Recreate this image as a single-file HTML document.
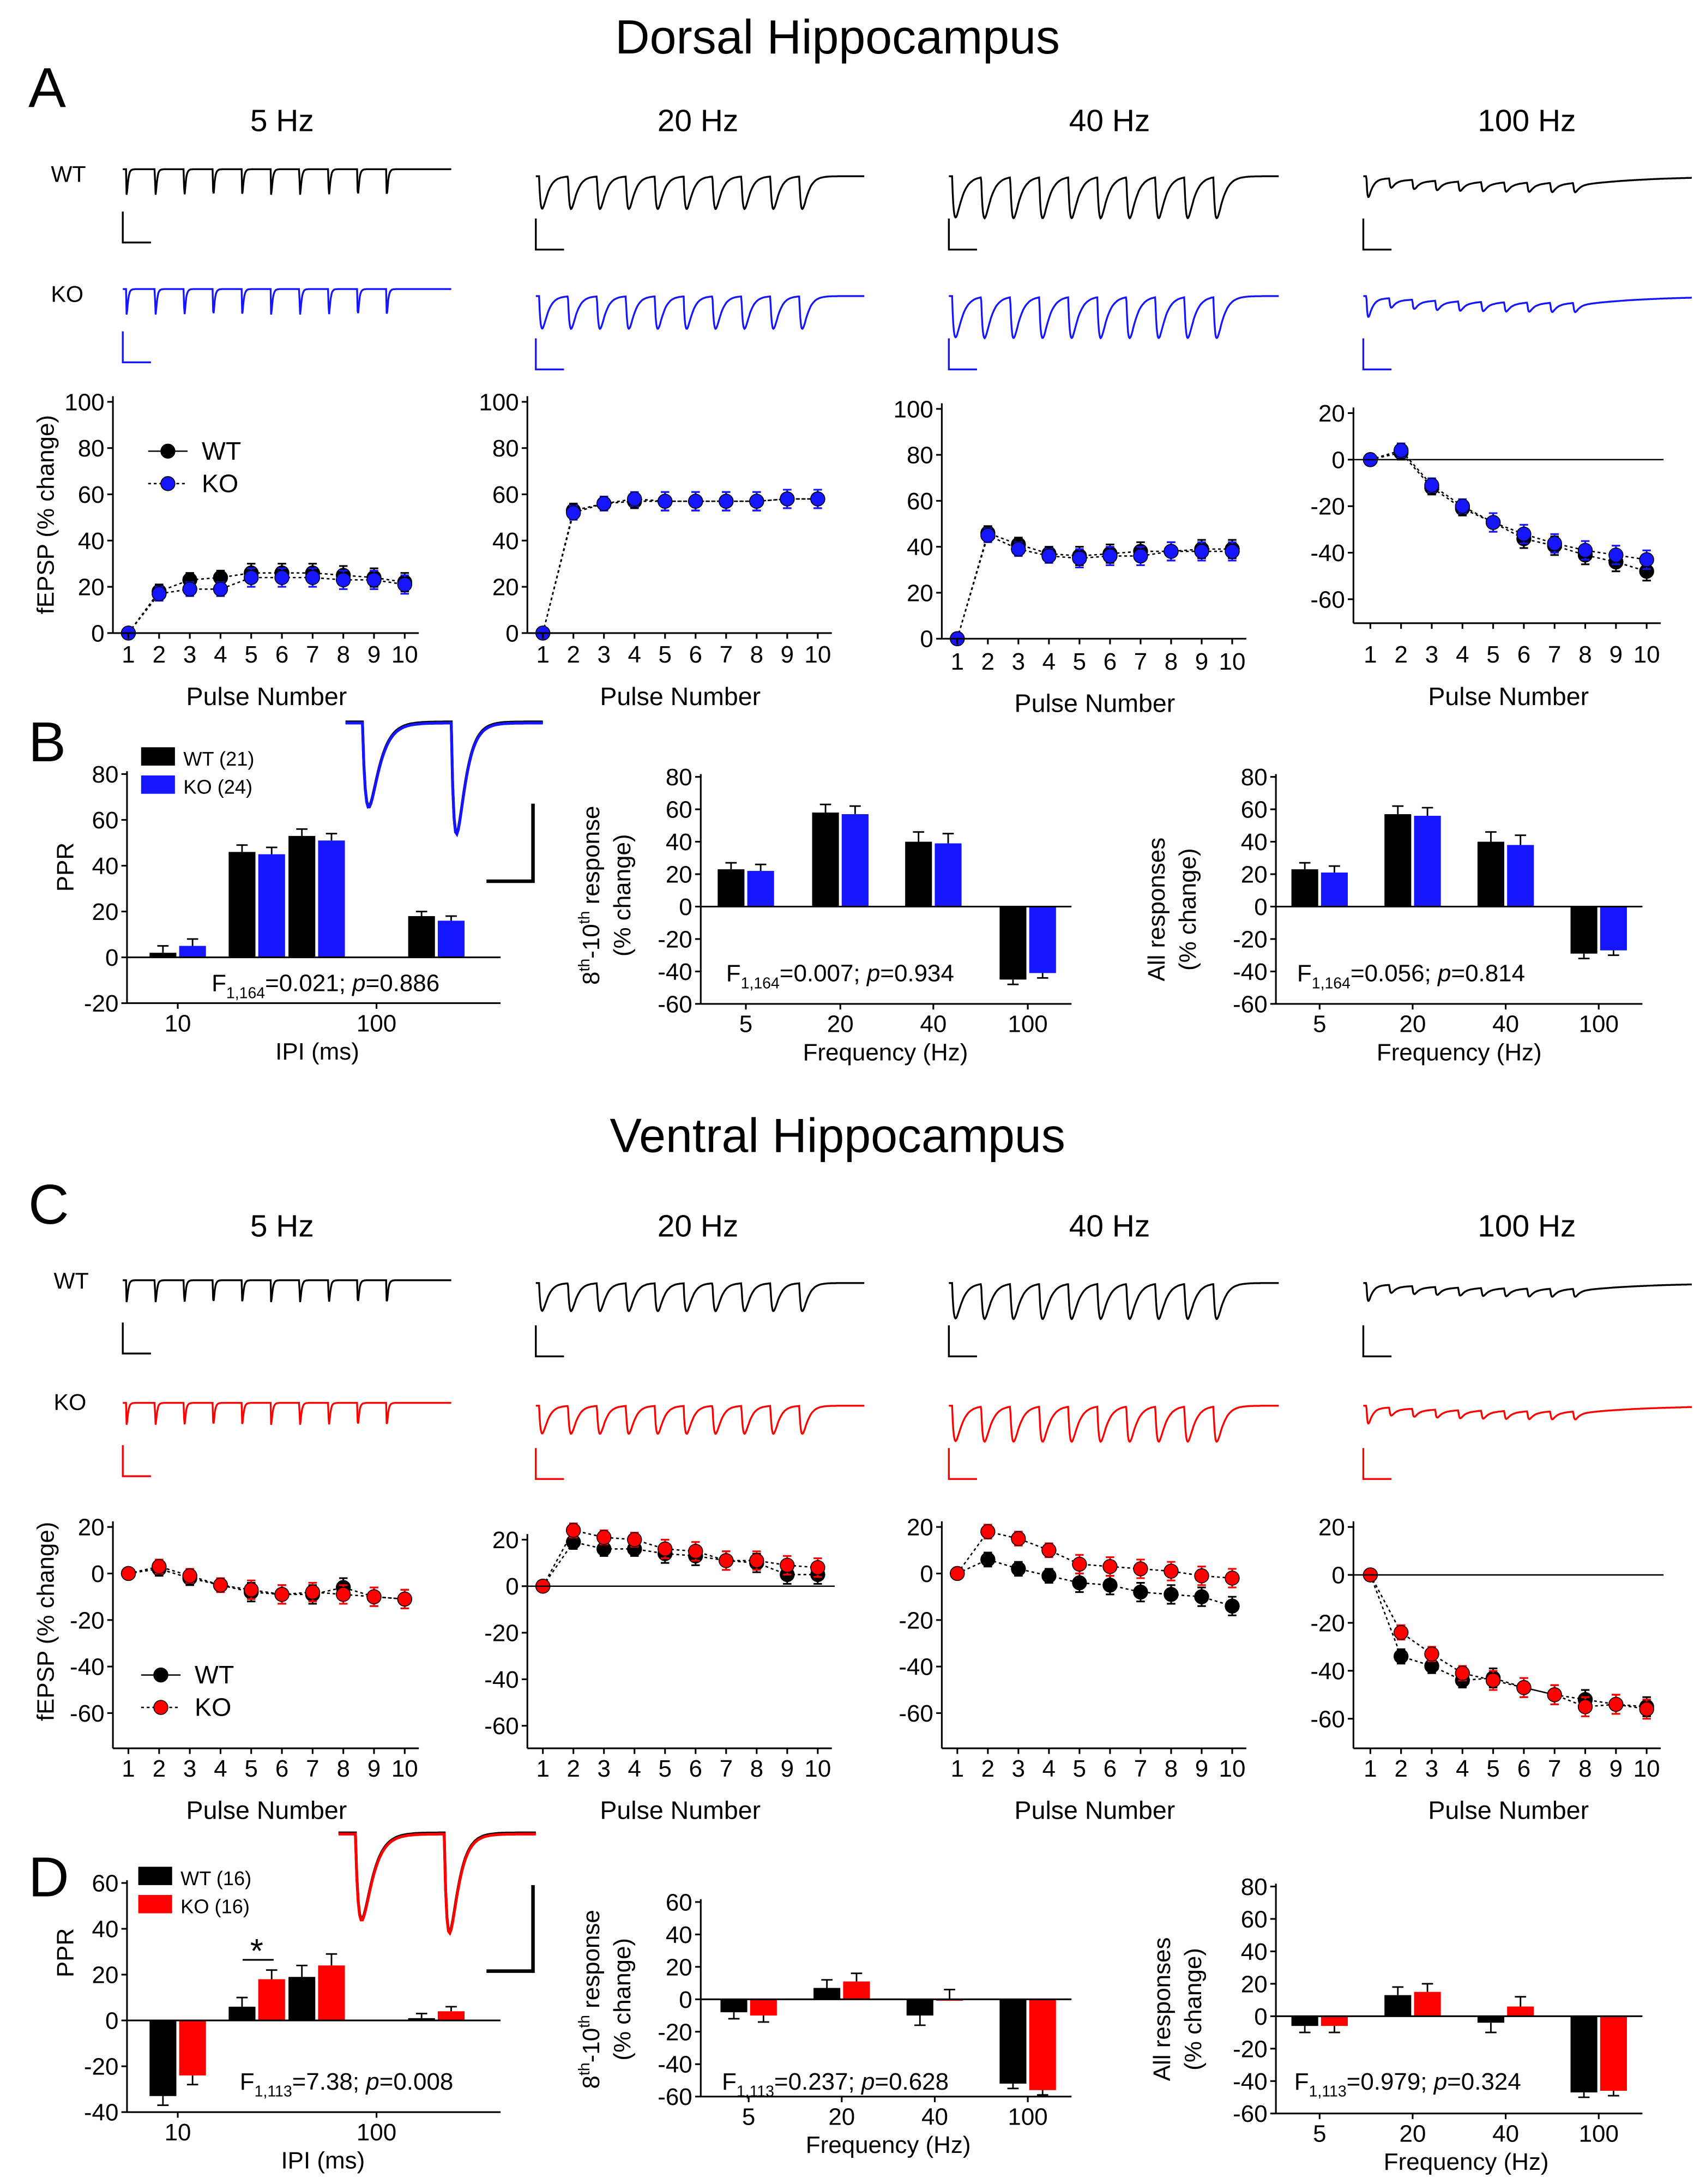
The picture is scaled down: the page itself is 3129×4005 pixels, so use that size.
<!DOCTYPE html>
<html><head><meta charset="utf-8">
<style>
html,body{margin:0;padding:0;background:#fff;}
svg{display:block;font-family:"Liberation Sans",Arial,sans-serif;}
</style></head>
<body>
<svg id="fig" xmlns="http://www.w3.org/2000/svg" width="3129" height="4005" viewBox="0 0 1210 1549"></svg>
<script>
// ---------- DATA ----------
const pulses = [1,2,3,4,5,6,7,8,9,10];
const dA5wt  = [0,18,23,24,26,26,26,25,24,22];
const dA5ko  = [0,17,19,19,24,24,24,23,23,21];
const dA20wt = [0,53,56,57,57,57,57,57,58,58];
const dA20ko = [0,52,56,58,57,57,57,57,58,58];
const dA40wt = [0,46,41,37,36,37,38,38,39,39];
const dA40ko = [0,45,39,36,35,36,36,38,38,38];
const dA100wt= [0,3,-12,-21,-27,-34,-37,-41,-44,-48];
const dA100ko= [0,4,-11,-20,-27,-32,-36,-39,-41,-43];
const dC5wt  = [0,2,-2,-5,-8,-9,-9,-6,-10,-11];
const dC5ko  = [0,3,-1,-5,-7,-9,-8,-9,-10,-11];
const dC20wt = [0,19,16,16,14,13,11,10,5,5];
const dC20ko = [0,24,21,20,16,15,11,11,9,8];
const dC40wt = [0,6,2,-1,-4,-5,-8,-9,-10,-14];
const dC40ko = [0,18,15,10,4,3,2,1,-1,-2];
const dC100wt= [0,-34,-38,-44,-43,-47,-50,-52,-54,-55];
const dC100ko= [0,-24,-33,-41,-44,-47,-50,-55,-54,-56];
const errLine = [1,3,3,3,4,4,4,4,4,4];

const ipiCats = [10,25,50,200];
const pprBwt = [2,46,53,18];
const pprBko = [5,45,51,16];
const pprBerr= [3,3,3,2];
const freqCats = ["5","20","40","100"];
const b2wt = [23,58,40,-45];
const b2ko = [22,57,39,-41];
const b3wt = [23,57,40,-29];
const b3ko = [21,56,38,-27];
const barErr = [4,5,6,3];
const pprDwt = [-33,6,19,1];
const pprDko = [-24,18,24,4];
const pprDerr= [4,4,5,2];
const d2wt = [-8,7,-10,-52];
const d2ko = [-10,11,0,-56];
const d3wt = [-6,13,-4,-47];
const d3ko = [-6,15,6,-46];

const BLUE="#1515ff", RED="#ff0000";
const svg=document.getElementById('fig');
const NS="http://www.w3.org/2000/svg";

function mk(tag,attrs,parent){
  const e=document.createElementNS(NS,tag);
  for(const k in attrs) e.setAttribute(k,attrs[k]);
  (parent||svg).appendChild(e);
  return e;
}
function txt(x,y,s,size,anchor,name,extra){
  const e=mk('text',Object.assign({x:x,y:y,'font-size':size,'text-anchor':anchor||'middle',fill:'#000'},extra||{}));
  e.textContent=s;
  
  
  return e;
}
function line(x1,y1,x2,y2,name,stroke,w,dash){
  const e=mk('line',{x1:x1,y1:y1,x2:x2,y2:y2,stroke:stroke||'#000','stroke-width':w||1.2});
  if(dash) e.setAttribute('stroke-dasharray',dash);
  
  
  return e;
}
function g(name){
  const e=mk('g',{});
  
  
  return e;
}

// ---------- Titles ----------
txt(594,38,"Dorsal Hippocampus",34,'middle','dorsal-title');
txt(594,817,"Ventral Hippocampus",34,'middle','ventral-title');
txt(20,76,"A",40,'start','panel-a-label');
txt(20,540,"B",40,'start','panel-b-label');
txt(20,868,"C",40,'start','panel-c-label');
txt(20,1345,"D",40,'start','panel-d-label');
const colX=[200,495,787,1083], colLbl=["5 Hz","20 Hz","40 Hz","100 Hz"];
colX.forEach((x,i)=>{txt(x,93,colLbl[i],22,'middle','header-dorsal-'+i);txt(x,877,colLbl[i],22,'middle','header-ventral-'+i);});
txt(36,129,"WT",16,'start','row-label-wt-dorsal');
txt(36,214,"KO",16,'start','row-label-ko-dorsal');
txt(38,914,"WT",16,'start','row-label-wt-ventral');
txt(38,1000,"KO",16,'start','row-label-ko-ventral');

// ---------- Traces (illustrative) ----------
function trace(x0,x1,yb,type,color,name,amp){
  const gg=g(name);
  let pts=[];
  const N=600, W=x1-x0;
  let pulseEnd = type==='100'?0.7:0.88;
  let sp = pulseEnd/10;
  for(let k=0;k<=N;k++){
    const f=k/N; let v=0;
    for(let p=0;p<10;p++){
      const t=f-(0.01+p*sp);
      if(t<0) continue;
      if(type==='5'){ v+= amp*1.1*(Math.exp(-t/0.004)-Math.exp(-t/0.001)); }
      else if(type==='20'){ v+= amp*1.9*(Math.exp(-t/0.016)-Math.exp(-t/0.006)); }
      else if(type==='40'){ v+= amp*2.0*(Math.exp(-t/0.02)-Math.exp(-t/0.006)); }
      else { v+= amp*0.35*(p===0?2.2:0.8)*(Math.exp(-t/0.012)-Math.exp(-t/0.003)) + amp*0.06*(Math.exp(-t/0.2)); }
    }
    pts.push((x0+f*W).toFixed(1)+","+(yb+v).toFixed(1));
  }
  const pl=mk('polyline',{points:pts.join(' '),fill:'none',stroke:color,'stroke-width':1.3},gg);
  
  
  const sb=mk('path',{d:`M${x0} ${yb+30} L${x0} ${yb+52} L${x0+20} ${yb+52}`,fill:'none',stroke:color,'stroke-width':1.3},gg);
  
  
}
const trX=[[87,320],[380,613],[673,907],[967,1200]], types=['5','20','40','100'];
trX.forEach((r,i)=>{
  trace(r[0],r[1],120+(i>0?5:0),types[i],'#000','trace-dorsal-wt-'+types[i],35);
  trace(r[0],r[1],205+(i>0?5:0),types[i],BLUE,'trace-dorsal-ko-'+types[i],35);
  trace(r[0],r[1],908+(i>0?2:0),types[i],'#000','trace-ventral-wt-'+types[i],30);
  trace(r[0],r[1],995+(i>0?2:0),types[i],RED,'trace-ventral-ko-'+types[i],30);
});

// ---------- Line charts ----------
function lineChart(c){
  const gg=g(c.name);
  const xOf=p=>c.x1+(p-1)*(c.x10-c.x1)/9;
  const yOf=v=>c.yA+(v-c.vA)*(c.yB-c.yA)/(c.vB-c.vA);
  const bottom=c.bottom;
  line(c.axisX,yOf(c.ticks[c.ticks.length-1])-4,c.axisX,bottom,c.name+'-y-axis');
  line(c.axisX,bottom,c.x10+10,bottom,c.name+'-x-axis');
  c.ticks.forEach(v=>{const y=yOf(v);line(c.axisX-4,y,c.axisX,y,c.name+'-ytick');txt(c.axisX-6,y+6,String(v),17,'end',c.name+'-ytick-label');});
  pulses.forEach(p=>{const x=xOf(p);line(x,bottom,x,bottom+4,c.name+'-xtick');txt(x,c.lblY,String(p),17,'middle',c.name+'-xtick-label');});
  txt((c.x1+c.x10)/2,c.lblY+30,"Pulse Number",18,'middle',c.name+'-x-title');
  if(c.zero) line(c.axisX,yOf(0),c.x10+12,yOf(0),c.name+'-zero-line','#000',1);
  [[c.wt,'#000','wt'],[c.ko,c.kc,'ko']].forEach(([d,col,lab])=>{
    const pts=pulses.map((p,i)=>xOf(p)+","+yOf(d[i])).join(' ');
    const pl=mk('polyline',{points:pts,fill:'none',stroke:'#000','stroke-width':1,'stroke-dasharray':'2,2'},gg);
    
    
    pulses.forEach((p,i)=>{
      const x=xOf(p),y=yOf(d[i]),e=Math.abs(yOf(errLine[i])-yOf(0));
      const eb=mk('path',{d:`M${x} ${y-e} L${x} ${y+e} M${x-3} ${y-e} L${x+3} ${y-e} M${x-3} ${y+e} L${x+3} ${y+e}`,stroke:col,'stroke-width':1.2,fill:'none'},gg);
      
      
      const pt=mk('circle',{cx:x,cy:y,r:5,fill:col,stroke:'#000','stroke-width':0.6},gg);
      
      
    });
  });
}
lineChart({name:'a-5hz',x1:91,x10:287,axisX:80,vA:0,yA:449,vB:100,yB:285,ticks:[0,20,40,60,80,100],bottom:449,lblY:470,wt:dA5wt,ko:dA5ko,kc:BLUE});
lineChart({name:'a-20hz',x1:385,x10:580,axisX:374,vA:0,yA:449,vB:100,yB:285,ticks:[0,20,40,60,80,100],bottom:449,lblY:470,wt:dA20wt,ko:dA20ko,kc:BLUE});
lineChart({name:'a-40hz',x1:679,x10:874,axisX:668,vA:0,yA:453,vB:100,yB:290,ticks:[0,20,40,60,80,100],bottom:453,lblY:475,wt:dA40wt,ko:dA40ko,kc:BLUE});
lineChart({name:'a-100hz',x1:972,x10:1168,axisX:960,vA:0,yA:326,vB:20,yB:293,ticks:[-60,-40,-20,0,20],bottom:442,lblY:470,wt:dA100wt,ko:dA100ko,kc:BLUE,zero:true});
lineChart({name:'c-5hz',x1:91,x10:287,axisX:80,vA:0,yA:1116,vB:20,yB:1083,ticks:[-60,-40,-20,0,20],bottom:1240,lblY:1260,wt:dC5wt,ko:dC5ko,kc:RED});
lineChart({name:'c-20hz',x1:385,x10:580,axisX:374,vA:0,yA:1125,vB:20,yB:1092,ticks:[-60,-40,-20,0,20],bottom:1240,lblY:1260,wt:dC20wt,ko:dC20ko,kc:RED,zero:true});
lineChart({name:'c-40hz',x1:679,x10:874,axisX:668,vA:0,yA:1116,vB:20,yB:1083,ticks:[-60,-40,-20,0,20],bottom:1240,lblY:1260,wt:dC40wt,ko:dC40ko,kc:RED});
lineChart({name:'c-100hz',x1:972,x10:1168,axisX:960,vA:0,yA:1117,vB:20,yB:1083,ticks:[-60,-40,-20,0,20],bottom:1240,lblY:1260,wt:dC100wt,ko:dC100ko,kc:RED,zero:true});
txt(38,365,"fEPSP (% change)",17,'middle','a-y-title',{transform:'rotate(-90 38 365)'});
txt(38,1150,"fEPSP (% change)",17,'middle','c-y-title',{transform:'rotate(-90 38 1150)'});
function lineLegend(x,y,col,lab,name){
  line(x,y,x+28,y,name+'-line','#000',1,lab==='KO'?'2,2':null);
  const c=mk('circle',{cx:x+14,cy:y,r:5,fill:col,stroke:'#000','stroke-width':0.6});
  
  
  txt(x+38,y+6,lab,18,'start',name+'-label');
}
lineLegend(105,320,'#000','WT','a-legend-wt');lineLegend(105,343,BLUE,'KO','a-legend-ko');
lineLegend(100,1188,'#000','WT','c-legend-wt');lineLegend(100,1211,RED,'KO','c-legend-ko');

// ---------- Bar charts ----------
function barChart(c){
  const gg=g(c.name);
  const yOf=v=>c.y0+v*c.k;
  const top=yOf(c.ticks[c.ticks.length-1]), bot=yOf(c.ticks[0]);
  line(c.axisX,top-2,c.axisX,bot,c.name+'-y-axis');
  line(c.axisX,bot,c.axisR,bot,c.name+'-x-axis');
  line(c.axisX,yOf(0),c.axisR,yOf(0),c.name+'-zero-line');
  c.ticks.forEach(v=>{const y=yOf(v);line(c.axisX-4,y,c.axisX,y,c.name+'-ytick');txt(c.axisX-6,y+6,String(v),17,'end',c.name+'-ytick-label');});
  c.cx.forEach((x,i)=>{
    [[c.wt,'#000',-20,'wt'],[c.ko,c.kc,1,'ko']].forEach(([d,col,off,lab])=>{
      const v=d[i], y0=yOf(0), y=yOf(v);
      const r=mk('rect',{x:x+off,y:Math.min(y,y0),width:19,height:Math.max(1,Math.abs(y-y0)),fill:col},gg);
      
      
      const e=c.err[i]*Math.abs(c.k), ex=x+off+9.5, ye=v>=0?y-e:y+e;
      const eb=mk('path',{d:`M${ex} ${y} L${ex} ${ye} M${ex-4} ${ye} L${ex+4} ${ye}`,stroke:'#000','stroke-width':1.1,fill:'none'},gg);
      
      
    });
  });
  if(c.xlabels) c.xlabels.forEach((l,i)=>{line(c.xlx[i],bot,c.xlx[i],bot+4,c.name+'-xtick');txt(c.xlx[i],bot+20,l,17,'middle',c.name+'-xtick-label');});
  if(c.xtitle) txt(c.xtx,bot+40,c.xtitle,17,'middle',c.name+'-x-title');
  const st=txt(c.sx,c.sy,"",17,'start',c.name+'-stat');
  const a=mk('tspan',{},st);a.textContent="F";
  const b=mk('tspan',{'font-size':11,dy:5},st);b.textContent=c.df;
  const d=mk('tspan',{dy:-5},st);d.textContent="="+c.F+"; ";
  const e=mk('tspan',{'font-style':'italic'},st);e.textContent="p";
  const f=mk('tspan',{},st);f.textContent="="+c.p;
}
const logX=ipi=>126+(Math.log10(ipi)-1)*141;
const ipiX=ipiCats.map(logX);
barChart({name:'b-ppr',axisX:90,axisR:355,y0:679,k:-1.625,ticks:[-20,0,20,40,60,80],cx:ipiX,wt:pprBwt,ko:pprBko,kc:BLUE,err:pprBerr,xlabels:['10','100'],xlx:[logX(10),logX(100)],xtitle:'IPI (ms)',xtx:225,sx:150,sy:703,df:'1,164',F:'0.021',p:'0.886'});
barChart({name:'b-8-10',axisX:497,axisR:760,y0:643,k:-1.15,ticks:[-60,-40,-20,0,20,40,60,80],cx:[529,596,662,729],wt:b2wt,ko:b2ko,kc:BLUE,err:barErr,xlabels:freqCats,xlx:[529,596,662,729],xtitle:'Frequency (Hz)',xtx:628,sx:515,sy:696,df:'1,164',F:'0.007',p:'0.934'});
barChart({name:'b-all',axisX:905,axisR:1165,y0:643,k:-1.15,ticks:[-60,-40,-20,0,20,40,60,80],cx:[936,1002,1068,1134],wt:b3wt,ko:b3ko,kc:BLUE,err:barErr,xlabels:freqCats,xlx:[936,1002,1068,1134],xtitle:'Frequency (Hz)',xtx:1035,sx:920,sy:696,df:'1,164',F:'0.056',p:'0.814'});
barChart({name:'d-ppr',axisX:90,axisR:355,y0:1433,k:-1.625,ticks:[-40,-20,0,20,40,60],cx:ipiX,wt:pprDwt,ko:pprDko,kc:RED,err:pprDerr,xlabels:['10','100'],xlx:[logX(10),logX(100)],xtitle:'IPI (ms)',xtx:229,sx:170,sy:1482,df:'1,113',F:'7.38',p:'0.008'});
barChart({name:'d-8-10',axisX:497,axisR:760,y0:1418,k:-1.15,ticks:[-60,-40,-20,0,20,40,60],cx:[531,597,663,729],wt:d2wt,ko:d2ko,kc:RED,err:barErr,xlabels:freqCats,xlx:[531,597,663,729],xtitle:'Frequency (Hz)',xtx:630,sx:512,sy:1482,df:'1,113',F:'0.237',p:'0.628'});
barChart({name:'d-all',axisX:905,axisR:1165,y0:1430,k:-1.15,ticks:[-60,-40,-20,0,20,40,60,80],cx:[936,1002,1068,1134],wt:d3wt,ko:d3ko,kc:RED,err:barErr,xlabels:freqCats,xlx:[936,1002,1068,1134],xtitle:'Frequency (Hz)',xtx:1040,sx:918,sy:1482,df:'1,113',F:'0.979',p:'0.324'});
txt(52,615,"PPR",17,'middle','b-ppr-y-title',{transform:'rotate(-90 52 615)'});
txt(52,1385,"PPR",17,'middle','d-ppr-y-title',{transform:'rotate(-90 52 1385)'});
function vtitle(x,y,l1,name){
  const t=txt(x,y,"",17,'middle',name,{transform:`rotate(-90 ${x} ${y})`});
  const a=mk('tspan',{},t);a.textContent=l1[0];
  if(l1.length>1){const b=mk('tspan',{x:x,dy:22},t);b.textContent=l1[1];}
}
[[425,635,'b-8-10-y-title'],[425,1418,'d-8-10-y-title']].forEach(([x,y,n])=>{
  const t=txt(x,y,"",17,'middle',n,{transform:`rotate(-90 ${x} ${y})`});
  const a=mk('tspan',{},t);a.textContent="8";
  const b=mk('tspan',{'font-size':11,dy:-7},t);b.textContent="th";
  const c=mk('tspan',{dy:7},t);c.textContent="-10";
  const d=mk('tspan',{'font-size':11,dy:-7},t);d.textContent="th";
  const e=mk('tspan',{dy:7},t);e.textContent=" response";
  const t2=txt(x,y+22,"(% change)",17,'middle',n+'-line2',{transform:`rotate(-90 ${x} ${y})`});
});
vtitle(826,645,["All responses","(% change)"],'b-all-y-title');
vtitle(830,1425,["All responses","(% change)"],'d-all-y-title');
function barLegend(x,y,col,lab,name){
  const r=mk('rect',{x:x,y:y-10,width:24,height:13,fill:col});
  
  
  txt(x+30,y+3,lab,14,'start',name+'-label');
}
barLegend(100,540,'#000','WT (21)','b-legend-wt');barLegend(100,560,BLUE,'KO (24)','b-legend-ko');
barLegend(98,1334,'#000','WT (16)','d-legend-wt');barLegend(98,1354,RED,'KO (16)','d-legend-ko');
line(172,1390,194,1390,'d-sig-line');
txt(182,1392,"*",24,'middle','d-sig-star');
function inset(x0,yb,d1,d2,cols,name){
  const gg=g(name);
  cols.forEach((col,j)=>{
    let pts=[];
    for(let x=x0;x<=x0+140;x+=1){
      const t1=x-(x0+12), t2=x-(x0+75);
      let v=0;
      if(t1>0) v+=d1*(Math.exp(-t1/7)-Math.exp(-t1/3))*2.3;
      if(t2>0) v+=d2*(Math.exp(-t2/6)-Math.exp(-t2/2.5))*2.3;
      pts.push(x+","+(yb+v+j*0.8).toFixed(1));
    }
    const pl=mk('polyline',{points:pts.join(' '),fill:'none',stroke:col,'stroke-width':2},gg);
    
    
  });
}
inset(245,512,86,110,['#000',BLUE],'b-inset');
inset(240,1300,88,98,['#000',RED],'d-inset');
const s1=mk('path',{d:'M378 570 L378 625 L345 625',fill:'none',stroke:'#000','stroke-width':2.5});


const s2=mk('path',{d:'M378 1337 L378 1398 L345 1398',fill:'none',stroke:'#000','stroke-width':2.5});


</script>
</body></html>
